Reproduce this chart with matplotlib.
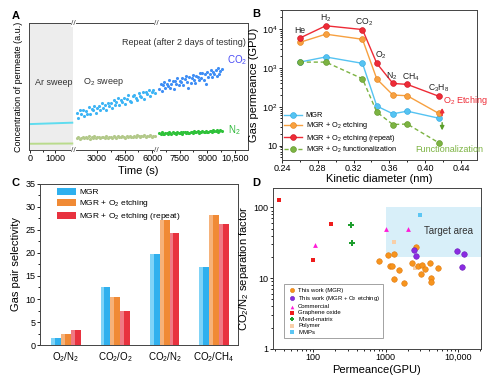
import matplotlib

matplotlib.use("Agg")

import matplotlib.pyplot as plt
import matplotlib.transforms as mtransforms
import numpy as np
from matplotlib.patches import Rectangle
from matplotlib.ticker import FixedFormatter, FixedLocator, LogLocator, NullFormatter

plt.rcParams["font.family"] = ["Liberation Sans", "DejaVu Sans"]
plt.rcParams["font.size"] = 6.5
plt.rcParams["axes.linewidth"] = 0.7
plt.rcParams["axes.edgecolor"] = "#444444"
plt.rcParams["xtick.major.width"] = 0.6
plt.rcParams["ytick.major.width"] = 0.6
plt.rcParams["xtick.major.size"] = 2.0
plt.rcParams["ytick.major.size"] = 2.0
plt.rcParams["xtick.minor.size"] = 1.3
plt.rcParams["ytick.minor.size"] = 1.3
plt.rcParams["xtick.major.pad"] = 1.0
plt.rcParams["ytick.major.pad"] = 1.2
plt.rcParams["mathtext.default"] = "regular"

# ---------------- panel A data (a.u.) ----------------
t_ar = [0, 1680]
co2_ar = [20.5, 21.6]
n2_ar = [5.0, 5.2]

t_o2 = np.arange(1900, 6200, 80)
co2_o2 = [
    29.5, 25.5, 31.7, 28.1, 31.6, 26.6, 30.6, 28.6, 34.0, 28.7,
    32.4, 31.4, 34.8, 29.0, 33.0, 35.0, 31.4, 36.9, 32.9, 35.3,
    31.9, 37.5, 35.0, 37.4, 33.0, 39.4, 35.3, 37.6, 41.0, 35.7,
    39.3, 37.8, 40.9, 36.6, 40.5, 43.1, 38.3, 37.6, 42.3, 43.8,
    40.8, 39.6, 45.3, 42.9, 41.6, 45.5, 40.3, 45.7, 44.1, 47.5,
    42.5, 46.0, 47.6, 44.9,
]
n2_o2 = [
    9.4, 10.3, 8.9, 9.9, 10.6, 9.2, 10.0, 9.6, 10.8, 9.1,
    10.2, 9.7, 10.9, 9.5, 10.4, 10.0, 9.3, 10.7, 10.1, 9.8,
    11.0, 9.6, 10.5, 10.2, 9.9, 11.2, 10.3, 9.7, 10.8, 10.4,
    10.0, 11.3, 10.6, 9.9, 10.9, 10.5, 11.4, 10.2, 10.7, 11.1,
    10.4, 11.6, 10.8, 10.3, 11.2, 10.9, 11.7, 10.6, 11.3, 11.0,
    11.8, 10.7, 11.4, 11.1,
]

t_rep = np.arange(6400, 9800, 65)
co2_rep = [
    48.3, 52.3, 46.5, 51.1, 53.7, 48.6, 52.3, 50.6, 55.2, 48.8,
    52.2, 54.2, 48.5, 54.2, 51.9, 56.5, 50.9, 54.3, 53.6, 57.0,
    51.2, 55.7, 58.4, 53.3, 48.8, 57.8, 53.1, 56.5, 59.2, 55.2,
    53.1, 58.7, 57.3, 55.2, 61.0, 57.0, 60.5, 55.1, 59.6, 51.9,
    61.8, 57.7, 60.2, 63.3, 57.4, 61.6, 60.1, 62.8, 58.0, 64.4,
    60.1, 62.5, 64.2,
]
n2_rep = [
    13.4, 12.6, 14.1, 13.0, 12.4, 13.8, 13.2, 12.8, 14.0, 13.5,
    12.9, 14.3, 13.1, 13.7, 12.7, 14.2, 13.6, 13.3, 14.5, 12.9,
    13.9, 14.1, 13.4, 14.6, 13.8, 13.2, 14.4, 14.0, 13.6, 14.8,
    13.9, 14.3, 15.0, 13.7, 14.5, 14.1, 15.2, 14.4, 13.9, 15.1,
    14.6, 14.2, 15.4, 14.8, 14.3, 15.6, 14.7, 15.0, 15.8, 14.5,
    15.3, 15.9, 15.1,
]
time_ticks = [0, 1000, 3000, 4500, 6000, 7500, 9000, 10500]
time_labels = ["0", "1000", "3000", "4500", "6000", "7500", "9000", "10,500"]

# ---------------- panel B data (GPU) ----------------
gases = ["He", "H$_2$", "CO$_2$", "O$_2$", "N$_2$", "CH$_4$", "C$_3$H$_8$"]
kinetic_d = [0.26, 0.289, 0.33, 0.346, 0.364, 0.38, 0.415]
perm_mgr = [1400, 1900, 1300, 104, 66, 77, 51]
perm_etch = [4500, 7300, 5400, 515, 200, 192, 68]
perm_repeat = [5800, 12000, 9600, 1300, 397, 375, 187]
perm_func = [1400, 1400, 523, 73, 35, 36, 12]

# ---------------- panel C data ----------------
pairs = ["O$_2$/N$_2$", "CO$_2$/O$_2$", "CO$_2$/N$_2$", "CO$_2$/CH$_4$"]
sel_mgr = [1.5, 12.5, 19.8, 17.0]
sel_etch = [2.4, 10.5, 27.1, 28.2]
sel_repeat = [3.2, 7.3, 24.4, 26.2]

# ---------------- panel D data ----------------
mgr_perm = [814, 1075, 1290, 1140, 1230, 1290, 1535, 1800, 2270, 2580,
            2800, 3120, 3020, 3470, 4070, 4200, 4200, 5260]
mgr_sep = [17.3, 21.5, 22.2, 14.7, 15.0, 9.8, 12.9, 8.5, 16.3, 27.6,
           15.0, 15.3, 11.5, 13.6, 16.5, 10.2, 8.8, 13.9]
etch_perm = [2440, 2610, 9560, 12000, 11300]
etch_sep = [25.0, 20.6, 24.2, 21.7, 14.3]
comm_perm = [107, 995, 2000]
comm_sep = [29.8, 49.8, 49.8]
go_perm = [34, 99, 179]
go_sep = [129, 18, 58.6]
mm_perm = [331, 338]
mm_sep = [56.7, 31.5]
poly_perm = [1290, 2560]
poly_sep = [32.9, 13.7]
mmp_perm = [2990]
mmp_sep = [77.8]

C_BLUE = "#55c3f2"
C_ORANGE = "#f7a040"
C_RED = "#ee2b36"
C_GREEN = "#7cb342"

fig = plt.figure(figsize=(4.99, 3.80), dpi=100)
fig.patch.set_facecolor("white")

# ===================== A =====================
axA = fig.add_axes([0.058, 0.605, 0.439, 0.334])

T_BREAK = 1750.0
SLOPE_1 = 0.0253
SLOPE_2 = 0.01844


def _fwd(t):
    t = np.asarray(t, dtype=float)
    return np.where(t <= T_BREAK, t * SLOPE_1, T_BREAK * SLOPE_1 + (t - T_BREAK) * SLOPE_2)


def _inv(p):
    p = np.asarray(p, dtype=float)
    pb = T_BREAK * SLOPE_1
    return np.where(p <= pb, p / SLOPE_1, T_BREAK + (p - pb) / SLOPE_2)


axA.set_xscale("function", functions=(_fwd, _inv))
axA.set_xlim(-40, 11220)
axA.set_ylim(0, 100)
axA.axvspan(-40, 1720, color="#ededed", zorder=0, lw=0)

axA.plot(t_ar, co2_ar, color="#5fdcef", lw=1.4)
axA.plot(t_ar, n2_ar, color="#b9db8c", lw=1.4)
axA.scatter(t_o2, co2_o2, s=5, color="#3db4f5", lw=0)
axA.scatter(t_o2, n2_o2, s=5, color="#b3c98a", lw=0)
axA.scatter(t_rep, co2_rep, s=5, color="#3f8ef5", lw=0)
axA.scatter(t_rep, n2_rep, s=5, color="#2fc23a", lw=0)

axA.set_xticks(time_ticks)
axA.set_xticklabels(time_labels)
axA.xaxis.set_minor_locator(FixedLocator([500, 3750, 5250, 6750, 8250, 9750]))
axA.set_yticks([])
axA.set_xlabel("Time (s)", fontsize=8, labelpad=2)
axA.set_ylabel("Concentration of permeate (a.u.)", fontsize=6.5, labelpad=4)

brk = mtransforms.blended_transform_factory(axA.transData, axA.transAxes)
for tb in [1720, 6250]:
    for yb in [0, 1]:
        axA.text(tb, yb, "//", transform=brk, ha="center", va="center",
                 fontsize=6, color="#444444",
                 bbox=dict(facecolor="white", edgecolor="none", pad=0.3), clip_on=False)

axA.text(0.027, 0.535, "Ar sweep", transform=axA.transAxes, ha="left", va="center", fontsize=6.5, color="#333333")
axA.text(0.245, 0.535, "O$_2$ sweep", transform=axA.transAxes, ha="left", va="center", fontsize=6.5, color="#333333")
axA.text(0.99, 0.85, "Repeat (after 2 days of testing)", transform=axA.transAxes, ha="right", va="center",
         fontsize=6.5, color="#333333")
axA.text(0.905, 0.71, "CO$_2$", transform=axA.transAxes, ha="left", va="center", fontsize=7, color="#4a4cf5")
axA.text(0.91, 0.16, "N$_2$", transform=axA.transAxes, ha="left", va="center", fontsize=7, color="#2fb83a")

# ===================== B =====================
axB = fig.add_axes([0.565, 0.579, 0.391, 0.395])
mk = dict(marker="o", markersize=4.2, markeredgewidth=0.4)
axB.plot(kinetic_d, perm_mgr, color=C_BLUE, lw=1.0, markeredgecolor="#2aa5e0", label="MGR", **mk)
axB.plot(kinetic_d, perm_etch, color=C_ORANGE, lw=1.0, markeredgecolor="#e47e12",
         label="MGR + O$_2$ etching", **mk)
axB.plot(kinetic_d, perm_repeat, color=C_RED, lw=1.0, markeredgecolor="#c81020",
         label="MGR + O$_2$ etching (repeat)", **mk)
axB.plot(kinetic_d, perm_func, color=C_GREEN, lw=1.0, ls=(0, (3, 2)), markeredgecolor="#5a9020",
         label="MGR + O$_2$ functionalization", **mk)

label_dx = [0, 0, 1, 3, -1, 3, 0]
for name, xd, yv, dx in zip(gases, kinetic_d, perm_repeat, label_dx):
    axB.annotate(name, (xd, yv), xytext=(dx, 5.5), textcoords="offset points",
                 ha="center", va="center", fontsize=6.2, color="#222222")

axB.annotate("", xy=(0.419, 110), xytext=(0.419, 50),
             arrowprops=dict(arrowstyle="-|>", color=C_RED, lw=1.0, mutation_scale=6))
axB.annotate("", xy=(0.419, 21), xytext=(0.419, 46),
             arrowprops=dict(arrowstyle="-|>", color="#5a9e2a", lw=1.0, mutation_scale=6))
axB.text(0.4195, 145, "O$_2$ Etching", ha="left", va="center", fontsize=6.5, color=C_RED)
axB.text(0.4266, 7.9, "Functionalization", ha="center", va="center", fontsize=6.5, color=C_GREEN)

axB.set_yscale("log")
axB.set_xlim(0.24, 0.458)
axB.set_ylim(4.3, 3.07e4)
axB.set_xticks([0.24, 0.28, 0.32, 0.36, 0.40, 0.44])
axB.set_xticklabels(["0.24", "0.28", "0.32", "0.36", "0.40", "0.44"])
axB.xaxis.set_minor_locator(FixedLocator([0.26, 0.30, 0.34, 0.38, 0.42]))
axB.yaxis.set_major_locator(FixedLocator([10, 100, 1000, 10000]))
axB.yaxis.set_major_formatter(FixedFormatter(["10", "10$^2$", "10$^3$", "10$^4$"]))
axB.yaxis.set_minor_locator(LogLocator(base=10, subs=np.arange(2, 10)))
axB.yaxis.set_minor_formatter(NullFormatter())
axB.set_xlabel("Kinetic diameter (nm)", fontsize=8, labelpad=0.5)
axB.set_ylabel("Gas permeance (GPU)", fontsize=8, labelpad=2)
axB.legend(loc="lower left", bbox_to_anchor=(-0.015, 0.0), frameon=False, fontsize=5.3,
           handlelength=2.4, handletextpad=0.5, labelspacing=0.15, borderaxespad=0.3)

# ===================== C =====================
axC = fig.add_axes([0.080, 0.092, 0.397, 0.424])
xc = np.arange(len(pairs))
w = 0.2
axC.bar(xc - w, sel_mgr, w, color="#2fb0ee", label="MGR", lw=0)
axC.bar(xc, sel_etch, w, color="#f08a35", label="MGR + O$_2$ etching", lw=0)
axC.bar(xc + w, sel_repeat, w, color="#e8323f", label="MGR + O$_2$ etching (repeat)", lw=0)
# lighter left edge of each bar (shaded look)
axC.bar(xc - w - w * 0.3, sel_mgr, w * 0.4, color="#7fd3f7", lw=0)
axC.bar(xc - w * 0.3, sel_etch, w * 0.4, color="#f6b27a", lw=0)
axC.bar(xc + w - w * 0.3, sel_repeat, w * 0.4, color="#f07a84", lw=0)

axC.set_xlim(-0.53, 3.49)
axC.set_ylim(0, 35)
axC.set_xticks(xc)
axC.set_xticklabels(pairs, fontsize=7)
axC.tick_params(axis="x", length=0, pad=4)
axC.set_yticks(np.arange(0, 36, 5))
axC.yaxis.set_minor_locator(FixedLocator(np.arange(2.5, 35, 5)))
axC.set_ylabel("Gas pair selectivity", fontsize=8, labelpad=3)
axC.legend(loc="upper left", bbox_to_anchor=(0.05, 1.02), frameon=False, fontsize=6,
           handlelength=2.2, handleheight=0.8, handletextpad=0.4, labelspacing=0.25)

# ===================== D =====================
axD = fig.add_axes([0.547, 0.082, 0.417, 0.424])
axD.set_xscale("log")
axD.set_yscale("log")
axD.set_xlim(28, 20500)
axD.set_ylim(1, 190)
axD.add_patch(Rectangle((1000, 20), 20500 - 1000, 80, facecolor="#d8eff9", edgecolor="none", zorder=0))
axD.text(7400, 46, "Target area", ha="center", va="center", fontsize=7, color="#333333")

axD.scatter(mgr_perm, mgr_sep, s=16, color="#f7941d", edgecolors="#e07a10", linewidths=0.4,
            label="This work (MGR)", zorder=3)
axD.scatter(etch_perm, etch_sep, s=16, color="#8a2be2", edgecolors="#6a1cb8", linewidths=0.4,
            label="This work (MGR + O$_2$ etching)", zorder=3)
axD.scatter(comm_perm, comm_sep, s=12, marker="^", color="#ff1cd8", linewidths=0, label="Commercial", zorder=3)
axD.scatter(go_perm, go_sep, s=10, marker="s", color="#ee1c1c", linewidths=0, label="Graphene oxide", zorder=3)
axD.scatter(mm_perm, mm_sep, s=16, marker="P", color="#1e9e2e", linewidths=0, label="Mixed-matrix", zorder=3)
axD.scatter(poly_perm, poly_sep, s=12, marker="s", color="#f8cfa8", linewidths=0, label="Polymer", zorder=2)
axD.scatter(mmp_perm, mmp_sep, s=10, marker="s", color="#5cc6f4", linewidths=0, label="MMPs", zorder=3)

axD.xaxis.set_major_locator(FixedLocator([100, 1000, 10000]))
axD.xaxis.set_major_formatter(FixedFormatter(["100", "1000", "10,000"]))
axD.xaxis.set_minor_locator(LogLocator(base=10, subs=np.arange(2, 10)))
axD.xaxis.set_minor_formatter(NullFormatter())
axD.yaxis.set_major_locator(FixedLocator([1, 10, 100]))
axD.yaxis.set_major_formatter(FixedFormatter(["1", "10", "100"]))
axD.yaxis.set_minor_locator(LogLocator(base=10, subs=np.arange(2, 10)))
axD.yaxis.set_minor_formatter(NullFormatter())
axD.set_xlabel("Permeance(GPU)", fontsize=8, labelpad=2)
axD.set_ylabel("CO$_2$/N$_2$ separation factor", fontsize=8, labelpad=2)
legD = axD.legend(loc="lower left", bbox_to_anchor=(0.055, 0.07), frameon=True, fontsize=4.3,
                  handletextpad=0.2, labelspacing=0.2, borderpad=0.5, fancybox=False,
                  scatterpoints=1, markerscale=0.75, handlelength=1.6, borderaxespad=0)
legD.get_frame().set_edgecolor("#777777")
legD.get_frame().set_linewidth(0.6)

# panel letters
for lbl, xf, yf in [("A", 0.032, 0.958), ("B", 0.514, 0.962), ("C", 0.032, 0.518), ("D", 0.514, 0.518)]:
    fig.text(xf, yf, lbl, fontsize=8, fontweight="bold", ha="center", va="center")

fig.savefig("out.png", dpi=100, facecolor="white")
plt.close(fig)
